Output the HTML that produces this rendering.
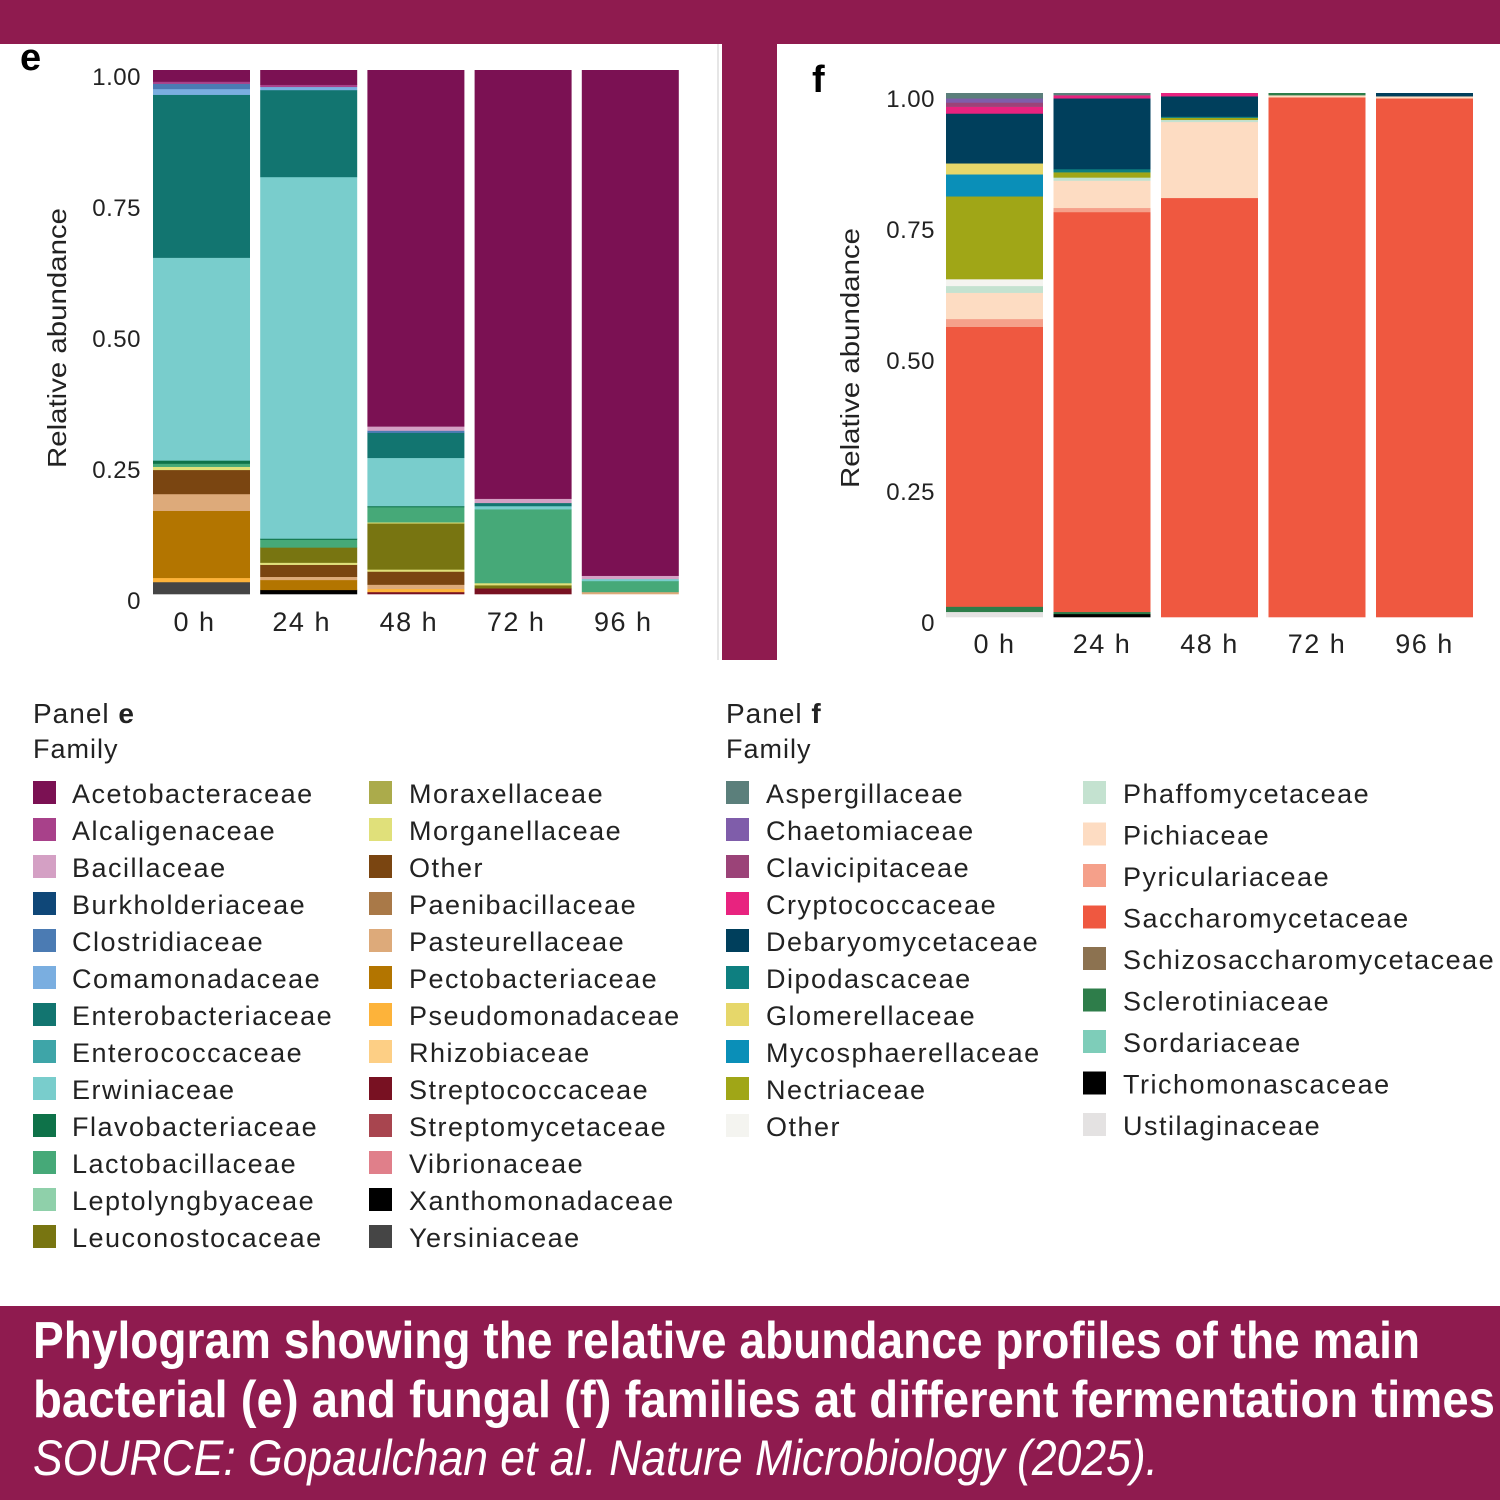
<!DOCTYPE html>
<html><head><meta charset="utf-8"><style>
body{margin:0;width:1500px;height:1500px;overflow:hidden;background:#fff;font-family:"Liberation Sans",sans-serif}
svg{display:block}
</style></head><body>
<svg id="s" width="1500" height="1500" viewBox="0 0 1500 1500" xmlns="http://www.w3.org/2000/svg">
<rect x="0" y="0" width="1500" height="44" fill="#8F1B4F"/>
<rect x="722" y="44" width="55" height="616" fill="#8F1B4F"/>
<line x1="718" y1="44" x2="718" y2="660" stroke="#e6e6e6" stroke-width="2"/>
<rect x="0" y="1306" width="1500" height="194" fill="#8F1B4F"/>
<text x="20" y="70" font-size="38" font-weight="bold">e</text>
<text x="812" y="92" font-size="38" font-weight="bold">f</text>
<text transform="translate(66,338) rotate(-90)" text-anchor="middle" font-size="26" fill="#222" textLength="260" lengthAdjust="spacingAndGlyphs">Relative abundance</text>
<text transform="translate(859,358) rotate(-90)" text-anchor="middle" font-size="26" fill="#222" textLength="260" lengthAdjust="spacingAndGlyphs">Relative abundance</text>
<g id="ge"></g><g id="gf"></g><g id="lg"></g>
<text x="33" y="1358" font-size="52" font-weight="bold" fill="#fff" textLength="1387" lengthAdjust="spacingAndGlyphs">Phylogram showing the relative abundance profiles of the main</text>
<text x="33" y="1417" font-size="52" font-weight="bold" fill="#fff" textLength="1462" lengthAdjust="spacingAndGlyphs">bacterial (e) and fungal (f) families at different fermentation times</text>
<text x="33" y="1475" font-size="50" font-style="italic" fill="#fff" textLength="1125" lengthAdjust="spacingAndGlyphs">SOURCE: Gopaulchan et al. Nature Microbiology (2025).</text>
</svg>
<script>
const timesE=["0 h","24 h","48 h","72 h","96 h"];
const timesF=["0 h","24 h","48 h","72 h","96 h"];
const ticks=[0,0.25,0.5,0.75,1];
const tickLabels=["0","0.25","0.50","0.75","1.00"];
const famE=["Acetobacteraceae","Alcaligenaceae","Bacillaceae","Burkholderiaceae","Clostridiaceae","Comamonadaceae","Enterobacteriaceae","Enterococcaceae","Erwiniaceae","Flavobacteriaceae","Lactobacillaceae","Leptolyngbyaceae","Leuconostocaceae","Moraxellaceae","Morganellaceae","Other","Paenibacillaceae","Pasteurellaceae","Pectobacteriaceae","Pseudomonadaceae","Rhizobiaceae","Streptococcaceae","Streptomycetaceae","Vibrionaceae","Xanthomonadaceae","Yersiniaceae"];
const colE=["#7B1153","#A8418A","#D4A0C4","#0F4778","#4B7BB3","#7AAEE0","#127570","#3EA5A8","#79CDCC","#0E7249","#46A978","#8FD0AA","#787511","#ABAB4B","#E0E07A","#7A4511","#A97948","#DDAA7A","#B37500","#FDB33A","#FDCF85","#781122","#A8454F","#E07F8A","#000000","#454545"];
const famF=["Aspergillaceae","Chaetomiaceae","Clavicipitaceae","Cryptococcaceae","Debaryomycetaceae","Dipodascaceae","Glomerellaceae","Mycosphaerellaceae","Nectriaceae","Other","Phaffomycetaceae","Pichiaceae","Pyriculariaceae","Saccharomycetaceae","Schizosaccharomycetaceae","Sclerotiniaceae","Sordariaceae","Trichomonascaceae","Ustilaginaceae"];
const colF=["#5B7F7B","#7F5DAA","#9B4378","#E8237F","#003F5C","#0E7F80","#E6D76A","#0A8FB8","#A0A617","#F4F4F0","#C4E2D0","#FDDCC2","#F5A08A","#EF5840","#8C7250","#2E7D4A","#7ECDB9","#000000","#E4E2E2"];
// stacks listed bottom -> top: [family, fraction]
const e0h=[["Yersiniaceae",0.023],["Pseudomonadaceae",0.008],["Pectobacteriaceae",0.128],["Pasteurellaceae",0.032],["Other",0.046],["Morganellaceae",0.006],["Lactobacillaceae",0.006],["Flavobacteriaceae",0.006],["Erwiniaceae",0.387],["Enterobacteriaceae",0.311],["Comamonadaceae",0.011],["Clostridiaceae",0.01],["Alcaligenaceae",0.004],["Acetobacteraceae",0.022]];
const e24h=[["Xanthomonadaceae",0.008],["Pectobacteriaceae",0.019],["Pasteurellaceae",0.006],["Other",0.023],["Morganellaceae",0.004],["Leuconostocaceae",0.029],["Lactobacillaceae",0.015],["Flavobacteriaceae",0.002],["Erwiniaceae",0.69],["Enterobacteriaceae",0.166],["Comamonadaceae",0.006],["Alcaligenaceae",0.004],["Acetobacteraceae",0.028]];
const e48h=[["Streptococcaceae",0.004],["Pseudomonadaceae",0.006],["Pasteurellaceae",0.008],["Other",0.025],["Morganellaceae",0.004],["Leuconostocaceae",0.088],["Morganellaceae",0.002],["Lactobacillaceae",0.029],["Flavobacteriaceae",0.002],["Erwiniaceae",0.092],["Enterobacteriaceae",0.048],["Clostridiaceae",0.004],["Bacillaceae",0.008],["Acetobacteraceae",0.68]];
const e72h=[["Streptococcaceae",0.011],["Leuconostocaceae",0.006],["Morganellaceae",0.004],["Lactobacillaceae",0.141],["Erwiniaceae",0.006],["Enterobacteriaceae",0.006],["Bacillaceae",0.008],["Acetobacteraceae",0.818]];
const e96h=[["Pasteurellaceae",0.004],["Lactobacillaceae",0.021],["Erwiniaceae",0.004],["Bacillaceae",0.006],["Acetobacteraceae",0.965]];
const f0h=[["Ustilaginaceae",0.01],["Sclerotiniaceae",0.01],["Saccharomycetaceae",0.534],["Pyriculariaceae",0.015],["Pichiaceae",0.05],["Phaffomycetaceae",0.013],["Other",0.013],["Nectriaceae",0.158],["Mycosphaerellaceae",0.042],["Glomerellaceae",0.021],["Debaryomycetaceae",0.095],["Cryptococcaceae",0.013],["Clavicipitaceae",0.008],["Chaetomiaceae",0.008],["Aspergillaceae",0.01]];
const f24h=[["Trichomonascaceae",0.006],["Sclerotiniaceae",0.004],["Saccharomycetaceae",0.763],["Pyriculariaceae",0.008],["Pichiaceae",0.052],["Phaffomycetaceae",0.006],["Nectriaceae",0.01],["Dipodascaceae",0.006],["Debaryomycetaceae",0.135],["Cryptococcaceae",0.006],["Aspergillaceae",0.004]];
const f48h=[["Saccharomycetaceae",0.8],["Pichiaceae",0.145],["Phaffomycetaceae",0.004],["Nectriaceae",0.004],["Dipodascaceae",0.002],["Debaryomycetaceae",0.039],["Cryptococcaceae",0.006]];
const f72h=[["Saccharomycetaceae",0.992],["Pichiaceae",0.004],["Sclerotiniaceae",0.004]];
const f96h=[["Saccharomycetaceae",0.99],["Pichiaceae",0.004],["Debaryomycetaceae",0.006]];
const stacksE=[e0h,e24h,e48h,e72h,e96h];
const stacksF=[f0h,f24h,f48h,f72h,f96h];
const NS="http://www.w3.org/2000/svg";
function mk(t,a,p){const el=document.createElementNS(NS,t);for(const k in a)el.setAttribute(k,a[k]);p.appendChild(el);return el;}
function panel(g,stacks,times,fams,cols,x0,step,bw,yTop,yBot,tickX,labY,tickOff,labShift,tag){
  const y=v=>yBot-v*(yBot-yTop);
  ticks.forEach((t,i)=>{const tx=mk('text',{x:tickX,y:y(t)+tickOff,'text-anchor':'end','font-size':24,fill:'#222','letter-spacing':0.5},g);tx.textContent=tickLabels[i];
    
    });
  stacks.forEach((st,i)=>{let acc=0;const x=x0+i*step;
    st.forEach(([f,v])=>{const r=mk('rect',{x:x,y:y(acc+v),width:bw,height:Math.max(0,y(acc)-y(acc+v))+0.3,fill:cols[fams.indexOf(f)]},g);
      
      acc+=v;});
    const tl=mk('text',{x:x+bw/2+labShift,y:labY,'text-anchor':'middle','font-size':27,fill:'#222','letter-spacing':1.5},g);tl.textContent=times[i];
    
    });
}
panel(document.getElementById('ge'),stacksE,timesE,famE,colE,153,107.2,97,70,594,141,631,15,-7,'e');
panel(document.getElementById('gf'),stacksF,timesF,famF,colF,946,107.5,97,93,617,935,653,14,0,'f');
const lg=document.getElementById('lg');
function head(x,letter){const t=mk('text',{x:x,y:723,'font-size':28,fill:'#222','letter-spacing':1},lg);t.innerHTML='Panel <tspan font-weight="bold">'+letter+'</tspan>';
 
 
 const t2=mk('text',{x:x,y:758,'font-size':27,fill:'#222','letter-spacing':1},lg);t2.textContent='Family';
 
 }
head(33,'e');head(726,'f');
function entries(fams,cols,start,n,sx,tx,y0,dy,tag){for(let i=0;i<n&&start+i<fams.length;i++){const k=start+i,yy=y0+i*dy;
 const r=mk('rect',{x:sx,y:yy-12,width:23,height:23,fill:cols[k]},lg);
 
 
 const t=mk('text',{x:tx,y:yy+10,'font-size':27,fill:'#222','letter-spacing':1.5},lg);t.textContent=fams[k];
 
 }}
entries(famE,colE,0,13,33,72,793,37,'e');
entries(famE,colE,13,13,369,409,793,37,'e');
entries(famF,colF,0,10,726,766,793,37,'f');
entries(famF,colF,10,9,1083,1123,793,41.5,'f');
</script>
</body></html>
